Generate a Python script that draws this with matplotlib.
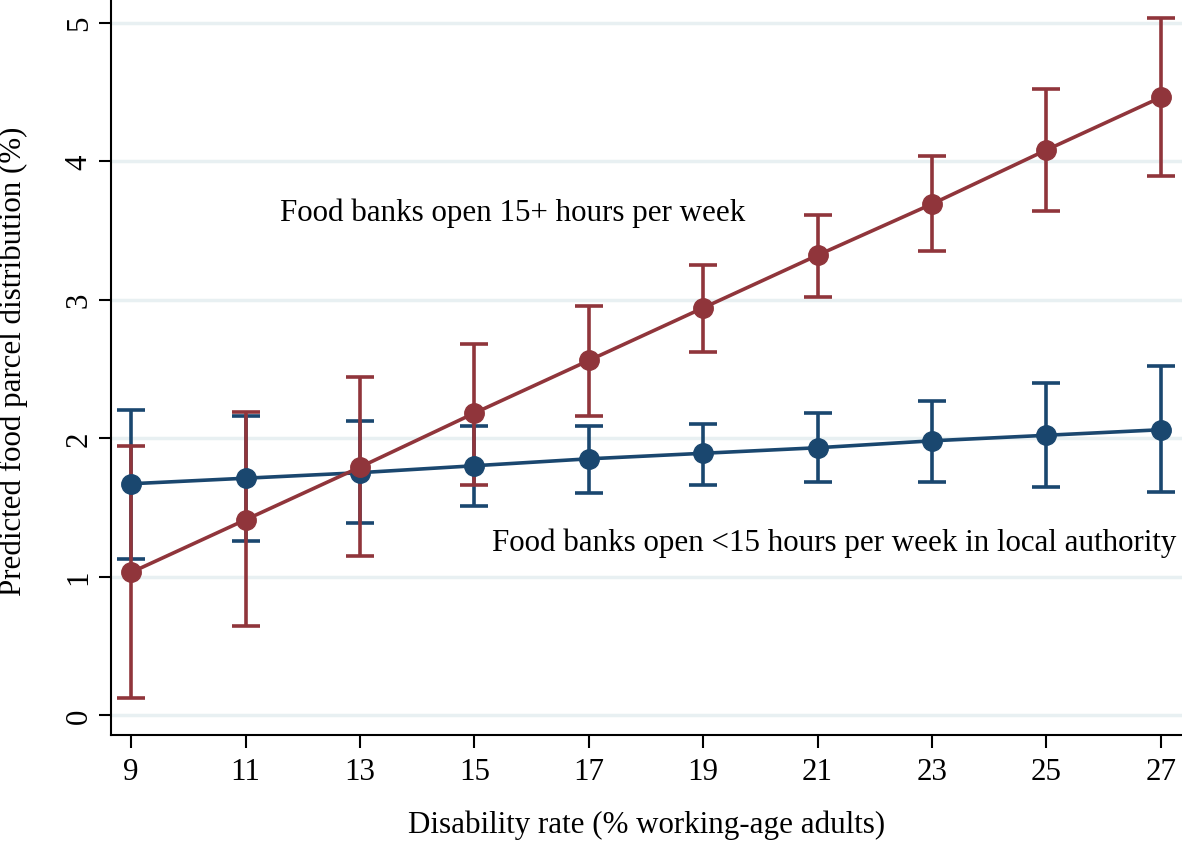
import numpy as np
import matplotlib.pyplot as plt

# disability rate (% working-age adults)
rate = [9, 11, 13, 15, 17, 19, 21, 23, 25, 27]

# food banks open 15+ hours per week
hi_pred = [1.03, 1.41, 1.79, 2.18, 2.56, 2.94, 3.32, 3.69, 4.08, 4.46]
hi_low = [0.12, 0.64, 1.15, 1.66, 2.16, 2.62, 3.02, 3.35, 3.64, 3.89]
hi_up = [1.94, 2.19, 2.44, 2.68, 2.95, 3.25, 3.61, 4.04, 4.52, 5.03]

# food banks open <15 hours per week
lo_pred = [1.67, 1.71, 1.75, 1.80, 1.85, 1.89, 1.93, 1.98, 2.02, 2.06]
lo_low = [1.13, 1.26, 1.39, 1.51, 1.60, 1.66, 1.68, 1.68, 1.65, 1.61]
lo_up = [2.20, 2.16, 2.12, 2.09, 2.09, 2.10, 2.18, 2.27, 2.40, 2.52]

red = '#90353b'
blue = '#1a476f'
fs = 22.3

plt.rcParams['font.family'] = ['Liberation Serif', 'DejaVu Serif']

fig = plt.figure(figsize=(11.82, 8.45), dpi=100)
ax = fig.add_axes([0.094, 0.129, 0.906, 0.871])

for y in [0, 1, 2, 3, 4, 5]:
    ax.axhline(y, color='#e8f0f2', lw=2.5, zorder=0)

def draw(pred, low, up, col):
    pred = np.array(pred)
    err = [pred - np.array(low), np.array(up) - pred]
    ax.errorbar(rate, pred, yerr=err, fmt='none', ecolor=col, elinewidth=2.6,
                capsize=10, capthick=2.6, zorder=2)
    ax.plot(rate, pred, color=col, lw=2.6, marker='o', markersize=14, zorder=3)

draw(lo_pred, lo_low, lo_up, blue)
draw(hi_pred, hi_low, hi_up, red)

ax.text(11.6, 3.63, 'Food banks open 15+ hours per week', fontsize=fs, va='center')
ax.text(15.31, 1.25, 'Food banks open <15 hours per week in local authority',
        fontsize=fs, va='center')

ax.set_xlim(8.65, 27.37)
ax.set_ylim(-0.144, 5.17)
ax.set_xticks(rate)
ax.set_yticks([0, 1, 2, 3, 4, 5])
ax.tick_params(labelsize=fs, length=9, width=1.5, direction='out')
ax.tick_params(axis='x', pad=7)
for lab in ax.get_yticklabels():
    lab.set_rotation(90)
    lab.set_va('center')
ax.spines['top'].set_visible(False)
ax.spines['right'].set_visible(False)
ax.spines['left'].set_linewidth(1.5)
ax.spines['bottom'].set_linewidth(1.5)

ax.set_xlabel('Disability rate (% working-age adults)', fontsize=fs, labelpad=17)
ax.set_ylabel('Predicted food parcel distribution (%)', fontsize=fs)
ax.yaxis.set_label_coords(-0.078, 0.5095)

fig.savefig('out.png', dpi=100)
